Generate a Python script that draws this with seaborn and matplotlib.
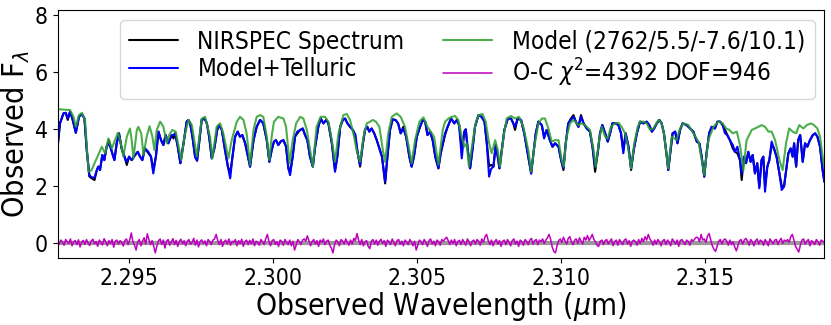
import numpy as np
import seaborn as sns
import matplotlib.pyplot as plt

# observed spectrum (black) and model+telluric (blue)
obs_wave = [
    2.29251, 2.29259, 2.29271, 2.29279, 2.29286, 2.29294, 2.29302, 2.29314, 2.29325, 2.29335,
    2.29344, 2.29352, 2.29361, 2.29369, 2.29379, 2.29387, 2.29392, 2.29398, 2.29406, 2.29413,
    2.29421, 2.29429, 2.29439, 2.29448, 2.29456, 2.29464, 2.29473, 2.29483, 2.29491, 2.29499,
    2.29508, 2.29520, 2.29529, 2.29537, 2.29545, 2.29554, 2.29566, 2.29575, 2.29583, 2.29592,
    2.29601, 2.29610, 2.29618, 2.29626, 2.29635, 2.29647, 2.29653, 2.29659, 2.29668, 2.29677,
    2.29688, 2.29699, 2.29705, 2.29711, 2.29719, 2.29728, 2.29735, 2.29742, 2.29751, 2.29761,
    2.29769, 2.29777, 2.29786, 2.29795, 2.29805, 2.29811, 2.29821, 2.29832, 2.29842, 2.29850,
    2.29858, 2.29867, 2.29876, 2.29884, 2.29892, 2.29902, 2.29919, 2.29931, 2.29942, 2.29954,
    2.29965, 2.29977, 2.29986, 2.29994, 2.30002, 2.30009, 2.30017, 2.30025, 2.30035, 2.30044,
    2.30052, 2.30058, 2.30067, 2.30075, 2.30083, 2.30093, 2.30102, 2.30110, 2.30118, 2.30127,
    2.30137, 2.30145, 2.30156, 2.30164, 2.30174, 2.30183, 2.30191, 2.30203, 2.30214, 2.30222,
    2.30232, 2.30241, 2.30249, 2.30257, 2.30266, 2.30276, 2.30285, 2.30292, 2.30301, 2.30310,
    2.30318, 2.30326, 2.30333, 2.30341, 2.30350, 2.30359, 2.30368, 2.30377, 2.30388, 2.30396,
    2.30405, 2.30414, 2.30424, 2.30433, 2.30442, 2.30451, 2.30461, 2.30472, 2.30480, 2.30488,
    2.30498, 2.30509, 2.30519, 2.30527, 2.30535, 2.30544, 2.30553, 2.30562, 2.30573, 2.30581,
    2.30596, 2.30605, 2.30617, 2.30628, 2.30637, 2.30645, 2.30654, 2.30663, 2.30668, 2.30675,
    2.30683, 2.30691, 2.30700, 2.30712, 2.30723, 2.30733, 2.30741, 2.30749, 2.30756, 2.30764,
    2.30772, 2.30779, 2.30785, 2.30793, 2.30802, 2.30814, 2.30825, 2.30833, 2.30839, 2.30848,
    2.30860, 2.30871, 2.30885, 2.30895, 2.30903, 2.30911, 2.30920, 2.30932, 2.30940, 2.30949,
    2.30960, 2.30969, 2.30978, 2.30990, 2.30999, 2.31007, 2.31015, 2.31024, 2.31033, 2.31042,
    2.31050, 2.31059, 2.31068, 2.31077, 2.31088, 2.31099, 2.31108, 2.31117, 2.31126, 2.31134,
    2.31142, 2.31152, 2.31161, 2.31169, 2.31177, 2.31189, 2.31198, 2.31207, 2.31215, 2.31223,
    2.31233, 2.31242, 2.31251, 2.31262, 2.31273, 2.31285, 2.31296, 2.31305, 2.31314, 2.31322,
    2.31331, 2.31340, 2.31348, 2.31356, 2.31366, 2.31371, 2.31379, 2.31386, 2.31395, 2.31403,
    2.31412, 2.31421, 2.31435, 2.31447, 2.31458, 2.31470, 2.31479, 2.31487, 2.31496, 2.31504,
    2.31513, 2.31522, 2.31533, 2.31542, 2.31551, 2.31560, 2.31568, 2.31576, 2.31585, 2.31595,
    2.31603, 2.31611, 2.31620, 2.31626, 2.31634, 2.31641, 2.31649, 2.31657, 2.31664, 2.31672,
    2.31680, 2.31687, 2.31695, 2.31701, 2.31707, 2.31715, 2.31722, 2.31730, 2.31738, 2.31747,
    2.31757, 2.31765, 2.31773, 2.31782, 2.31788, 2.31796, 2.31803, 2.31808, 2.31815, 2.31822,
    2.31829, 2.31838, 2.31846, 2.31854, 2.31863, 2.31873, 2.31881, 2.31889, 2.31898, 2.31907,
    2.31913]

obs_flux = [
    3.40, 4.20, 4.55, 4.57, 4.32, 4.61, 4.37, 3.87, 4.43, 4.53,
    4.37, 3.26, 2.33, 2.27, 2.21, 2.56, 2.68, 2.56, 3.09, 2.91,
    3.38, 3.61, 3.20, 2.91, 3.50, 3.85, 3.32, 3.03, 2.74, 3.03,
    2.91, 3.09, 3.20, 3.03, 2.91, 3.32, 3.15, 3.03, 2.56, 3.03,
    3.91, 3.61, 3.44, 3.79, 3.50, 3.79, 3.67, 3.85, 3.38, 2.80,
    3.50, 4.26, 4.32, 4.20, 3.73, 3.03, 2.89, 3.50, 4.32, 4.37,
    4.20, 3.73, 2.97, 3.32, 3.97, 4.14, 3.97, 3.26, 2.68, 2.45,
    3.03, 3.73, 3.91, 3.73, 3.79, 3.50, 2.68, 3.61, 4.08, 4.32,
    4.20, 3.61, 2.85, 3.26, 3.56, 3.61, 3.44, 3.56, 3.61, 3.38,
    2.62, 2.50, 3.03, 3.73, 3.85, 3.97, 4.02, 3.79, 3.61, 3.03,
    2.68, 3.38, 4.08, 4.37, 4.20, 4.32, 4.20, 3.50, 2.56, 3.03,
    4.08, 4.32, 4.37, 4.20, 4.08, 3.97, 3.67, 3.20, 2.68, 3.44,
    3.97, 4.08, 3.91, 4.02, 3.85, 3.61, 3.32, 3.03, 2.09, 3.03,
    3.97, 4.34, 4.32, 4.20, 3.85, 4.08, 3.73, 3.03, 2.68, 3.03,
    3.73, 4.08, 4.32, 4.26, 3.79, 3.91, 3.61, 3.03, 2.62, 3.15,
    3.79, 4.08, 4.37, 4.20, 4.32, 4.14, 3.30, 3.91, 3.99, 3.26,
    2.62, 3.26, 4.08, 4.49, 4.43, 4.26, 3.50, 2.70, 2.74, 2.68,
    3.44, 3.03, 2.62, 3.26, 3.97, 4.37, 4.37, 4.20, 3.97, 4.37,
    4.32, 3.85, 3.03, 2.44, 3.15, 3.85, 4.26, 4.14, 3.73, 3.97,
    3.61, 3.38, 3.50, 3.38, 2.91, 2.56, 3.50, 4.20, 4.37, 4.49,
    4.26, 4.08, 4.49, 4.20, 4.02, 3.91, 3.38, 2.50, 3.15, 3.85,
    4.14, 3.85, 3.56, 3.85, 4.20, 4.20, 4.14, 3.85, 3.26, 3.85,
    3.38, 2.56, 3.26, 3.85, 4.26, 4.20, 4.26, 4.14, 3.91, 4.02,
    4.20, 4.32, 4.20, 3.85, 3.03, 2.56, 3.26, 3.85, 3.91, 3.50,
    3.97, 4.20, 4.14, 4.02, 3.91, 3.56, 3.50, 3.03, 2.33, 3.15,
    3.85, 4.08, 4.02, 4.26, 4.26, 4.14, 3.97, 3.79, 3.61, 3.32,
    3.20, 3.15, 2.91, 2.21, 3.03, 2.80, 3.20, 2.85, 3.09, 2.44,
    2.80, 1.98, 2.91, 3.03, 2.00, 2.68, 2.91, 3.44, 3.32, 3.03,
    2.44, 2.00, 1.98, 2.68, 3.15, 3.32, 3.03, 3.50, 2.68, 3.61,
    3.79, 2.85, 3.50, 3.38, 3.61, 3.79, 3.85, 3.73, 3.38, 2.56,
    2.15]

tel_flux = [
    3.40, 4.20, 4.55, 4.57, 4.38, 4.61, 4.37, 3.87, 4.43, 4.53,
    4.37, 3.26, 2.39, 2.30, 2.30, 2.56, 2.68, 2.56, 3.09, 2.91,
    3.38, 3.50, 3.20, 2.91, 3.50, 3.85, 3.32, 3.03, 2.85, 3.03,
    2.91, 3.09, 3.20, 3.03, 2.91, 3.32, 3.20, 3.03, 2.44, 3.03,
    3.91, 3.61, 3.44, 3.79, 3.50, 3.79, 3.79, 3.85, 3.38, 2.80,
    3.50, 4.26, 4.32, 4.20, 3.73, 3.03, 2.89, 3.50, 4.32, 4.37,
    4.20, 3.73, 2.97, 3.32, 3.97, 4.14, 3.97, 3.26, 2.68, 2.27,
    3.03, 3.73, 3.91, 3.73, 3.79, 3.50, 2.68, 3.61, 4.08, 4.32,
    4.20, 3.61, 2.85, 3.26, 3.56, 3.61, 3.44, 3.56, 3.61, 3.38,
    2.62, 2.38, 3.03, 3.73, 3.91, 3.97, 4.02, 3.79, 3.61, 3.03,
    2.68, 3.38, 4.08, 4.37, 4.20, 4.32, 4.20, 3.50, 2.50, 3.03,
    4.08, 4.32, 4.37, 4.20, 4.08, 3.97, 3.80, 3.20, 2.74, 3.44,
    3.97, 4.08, 3.91, 4.02, 3.85, 3.61, 3.32, 3.03, 2.15, 3.03,
    3.97, 4.34, 4.32, 4.20, 3.85, 4.02, 3.73, 3.03, 2.68, 3.03,
    3.73, 4.08, 4.32, 4.26, 3.79, 3.91, 3.61, 3.03, 2.62, 3.15,
    3.85, 4.08, 4.37, 4.20, 4.32, 4.14, 2.97, 3.91, 3.99, 3.26,
    2.62, 3.26, 4.08, 4.49, 4.43, 4.26, 3.50, 2.33, 2.60, 2.68,
    3.44, 3.03, 2.62, 3.26, 3.97, 4.37, 4.37, 4.20, 4.08, 4.37,
    4.32, 3.85, 3.03, 2.44, 3.15, 3.85, 4.26, 4.14, 3.67, 3.97,
    3.61, 3.38, 3.50, 3.38, 2.91, 2.62, 3.50, 4.20, 4.32, 4.43,
    4.26, 4.08, 4.43, 4.20, 4.02, 3.91, 3.38, 2.68, 3.15, 3.85,
    4.14, 3.85, 3.56, 3.85, 4.20, 4.20, 4.14, 3.85, 3.15, 3.85,
    3.38, 2.62, 3.26, 3.85, 4.26, 4.20, 4.26, 4.14, 3.91, 4.02,
    4.20, 4.32, 4.20, 3.85, 3.03, 2.56, 3.26, 3.85, 3.91, 3.50,
    3.97, 4.20, 4.14, 4.02, 3.91, 3.56, 3.50, 3.03, 2.33, 3.15,
    3.85, 4.08, 4.02, 4.26, 4.26, 4.14, 3.85, 3.79, 3.61, 3.44,
    3.20, 3.38, 2.91, 2.44, 3.03, 2.80, 3.20, 2.85, 3.09, 2.44,
    2.80, 1.92, 2.91, 3.03, 1.80, 2.68, 2.91, 3.56, 3.32, 3.03,
    2.44, 1.86, 1.98, 2.68, 3.15, 3.32, 3.03, 3.50, 2.68, 3.61,
    3.79, 2.85, 3.50, 3.38, 3.61, 3.79, 3.85, 3.73, 3.38, 2.56,
    2.15]

# model without telluric (green)
mod_wave = [
    2.29251, 2.29289, 2.29294, 2.29306, 2.29314, 2.29325, 2.29335, 2.29346, 2.29358, 2.29369,
    2.29381, 2.29392, 2.29404, 2.29416, 2.29427, 2.29439, 2.29450, 2.29460, 2.29468, 2.29479,
    2.29491, 2.29502, 2.29508, 2.29514, 2.29526, 2.29531, 2.29541, 2.29549, 2.29560, 2.29570,
    2.29580, 2.29587, 2.29595, 2.29607, 2.29618, 2.29630, 2.29638, 2.29649, 2.29661, 2.29670,
    2.29680, 2.29691, 2.29705, 2.29717, 2.29734, 2.29751, 2.29763, 2.29780, 2.29788, 2.29803,
    2.29815, 2.29826, 2.29844, 2.29855, 2.29873, 2.29884, 2.29896, 2.29907, 2.29919, 2.29931,
    2.29942, 2.29954, 2.29965, 2.29977, 2.29986, 2.29994, 2.30002, 2.30017, 2.30035, 2.30044,
    2.30056, 2.30067, 2.30079, 2.30093, 2.30104, 2.30116, 2.30137, 2.30150, 2.30164, 2.30179,
    2.30191, 2.30203, 2.30214, 2.30226, 2.30243, 2.30255, 2.30266, 2.30278, 2.30289, 2.30301,
    2.30313, 2.30324, 2.30336, 2.30345, 2.30356, 2.30368, 2.30380, 2.30388, 2.30399, 2.30411,
    2.30428, 2.30442, 2.30457, 2.30472, 2.30480, 2.30492, 2.30507, 2.30521, 2.30535, 2.30546,
    2.30558, 2.30573, 2.30588, 2.30596, 2.30608, 2.30619, 2.30631, 2.30642, 2.30654, 2.30663,
    2.30671, 2.30679, 2.30691, 2.30702, 2.30712, 2.30726, 2.30737, 2.30749, 2.30758, 2.30770,
    2.30779, 2.30787, 2.30799, 2.30810, 2.30825, 2.30839, 2.30853, 2.30868, 2.30885, 2.30895,
    2.30906, 2.30920, 2.30932, 2.30943, 2.30955, 2.30966, 2.30978, 2.30990, 2.31001, 2.31008,
    2.31018, 2.31030, 2.31042, 2.31059, 2.31071, 2.31082, 2.31099, 2.31111, 2.31119, 2.31131,
    2.31140, 2.31152, 2.31161, 2.31172, 2.31186, 2.31198, 2.31209, 2.31221, 2.31230, 2.31242,
    2.31253, 2.31265, 2.31273, 2.31285, 2.31296, 2.31308, 2.31319, 2.31337, 2.31348, 2.31356,
    2.31371, 2.31383, 2.31400, 2.31412, 2.31423, 2.31441, 2.31458, 2.31476, 2.31496, 2.31510,
    2.31528, 2.31545, 2.31560, 2.31572, 2.31583, 2.31595, 2.31609, 2.31620, 2.31632, 2.31643,
    2.31661, 2.31672, 2.31684, 2.31695, 2.31707, 2.31719, 2.31730, 2.31742, 2.31757, 2.31768,
    2.31780, 2.31791, 2.31803, 2.31815, 2.31826, 2.31840, 2.31852, 2.31866, 2.31877, 2.31889,
    2.31898, 2.31907, 2.31913]

mod_flux = [
    4.70, 4.67, 4.67, 4.43, 4.08, 4.49, 4.57, 4.32, 2.50, 2.56,
    2.85, 3.09, 3.38, 3.15, 3.67, 3.32, 3.61, 3.87, 3.61, 3.03,
    3.73, 4.02, 3.61, 2.97, 3.97, 4.08, 3.85, 3.09, 3.73, 4.10,
    3.73, 3.26, 3.97, 4.26, 4.08, 3.50, 3.79, 3.97, 3.91, 3.44,
    2.91, 3.73, 4.32, 4.14, 3.03, 4.37, 4.43, 3.73, 2.97, 4.08,
    4.20, 3.85, 2.97, 3.61, 4.26, 4.43, 4.32, 3.85, 2.74, 3.97,
    4.43, 4.49, 4.43, 3.73, 2.91, 3.73, 4.26, 4.43, 4.37, 4.08,
    2.80, 3.61, 4.20, 4.43, 4.37, 3.97, 2.68, 4.08, 4.43, 4.43,
    4.26, 3.61, 2.85, 3.85, 4.49, 4.53, 4.32, 3.85, 3.26, 2.85,
    3.73, 4.20, 4.26, 4.32, 4.26, 4.08, 3.26, 2.85, 3.85, 4.43,
    4.55, 4.43, 4.08, 3.26, 2.80, 3.61, 4.26, 4.41, 4.08, 3.91,
    3.73, 2.74, 3.97, 4.26, 4.37, 4.43, 4.46, 4.32, 3.73, 3.38,
    3.50, 2.68, 3.50, 4.20, 4.49, 4.53, 4.26, 3.50, 3.15, 3.61,
    3.26, 2.68, 3.73, 4.37, 4.46, 4.37, 4.43, 4.08, 3.26, 2.50,
    3.38, 4.20, 4.37, 4.37, 4.02, 3.56, 3.61, 3.61, 2.91, 2.68,
    3.73, 4.20, 4.32, 4.14, 4.20, 4.14, 3.97, 3.32, 2.68, 3.61,
    4.08, 3.73, 3.67, 4.08, 4.20, 4.22, 4.08, 3.85, 3.44, 2.62,
    3.50, 4.08, 4.26, 4.26, 4.20, 3.97, 4.02, 4.32, 4.20, 3.85,
    2.62, 3.73, 3.61, 4.02, 4.20, 4.14, 3.85, 3.56, 2.39, 3.61,
    4.08, 4.26, 4.20, 4.02, 3.97, 3.85, 3.91, 3.44, 2.56, 3.61,
    3.97, 4.02, 4.08, 4.14, 4.08, 3.91, 3.91, 3.61, 2.91, 2.56,
    3.50, 4.02, 3.91, 3.85, 4.14, 4.02, 4.14, 4.20, 4.14, 4.02,
    3.73, 3.03, 2.68]

# O-C residuals, 480 samples across the range
res_flux = [
    0.06, -0.04, 0.10, 0.02, -0.08, 0.12, 0.04, -0.02, 0.14, -0.10, 0.05, 0.08, -0.06, 0.11, -0.14, 0.03, 0.09, -0.05, 0.12, 0.00,
    -0.09, 0.07, 0.13, -0.03, 0.05, -0.12, 0.10, 0.02, -0.07, 0.15, 0.04, -0.10, 0.08, -0.02, 0.12, -0.15, 0.06, 0.10, -0.04, 0.08,
    0.02, -0.11, 0.09, 0.14, -0.06, 0.10, 0.35, 0.05, -0.08, -0.25, 0.04, 0.12, -0.10, 0.06, 0.18, -0.04, 0.32, 0.12, -0.06, 0.08,
    -0.12, -0.35, -0.10, 0.08, 0.14, -0.05, 0.10, -0.18, 0.06, 0.12, -0.08, 0.04, 0.15, -0.06, 0.09, -0.12, 0.05, 0.13, -0.03, 0.08,
    -0.10, 0.06, 0.12, -0.05, 0.02, 0.16, -0.08, 0.10, -0.14, 0.05, 0.11, -0.03, 0.07, -0.10, 0.12, 0.04, -0.06, 0.10, 0.14, 0.30,
    0.08, -0.06, 0.12, -0.12, 0.04, 0.10, -0.04, 0.14, -0.08, 0.06, 0.02, 0.12, -0.10, 0.08, -0.02, 0.13, -0.12, 0.05, 0.10, -0.06,
    0.09, -0.03, 0.14, -0.10, 0.06, 0.02, -0.08, 0.12, 0.04, -0.06, 0.15, 0.30, 0.06, -0.10, 0.08, 0.12, -0.05, 0.04, -0.12, 0.10,
    0.05, -0.08, 0.12, 0.02, -0.06, 0.10, -0.10, 0.06, -0.25, -0.08, 0.12, 0.04, -0.06, 0.10, 0.14, 0.06, 0.25, 0.08, -0.10, 0.05,
    0.12, -0.04, 0.08, -0.12, 0.10, 0.02, 0.14, -0.06, 0.06, 0.10, -0.08, -0.18, -0.35, -0.06, 0.10, 0.04, -0.10, 0.12, 0.06, -0.04,
    0.14, 0.02, -0.08, 0.10, -0.04, 0.16, 0.08, 0.33, 0.10, -0.06, 0.12, -0.10, 0.04, 0.08, -0.12, -0.20, 0.06, 0.12, -0.04, 0.10,
    -0.08, 0.06, 0.13, -0.02, 0.08, -0.12, 0.10, 0.04, -0.06, 0.14, 0.02, -0.10, 0.08, 0.12, -0.05, 0.06, -0.10, 0.10, 0.03, -0.06,
    0.12, 0.04, -0.10, 0.06, -0.25, -0.08, 0.10, 0.05, -0.06, 0.12, 0.02, -0.12, 0.08, 0.14, -0.04, 0.06, -0.10, 0.10, 0.04, -0.08,
    0.12, 0.06, 0.14, 0.20, 0.08, -0.06, 0.10, -0.02, 0.12, -0.10, 0.05, 0.09, -0.06, 0.12, 0.02, -0.08, 0.14, 0.04, -0.10, 0.06,
    0.10, -0.04, 0.12, 0.06, -0.08, 0.14, 0.02, 0.22, 0.30, 0.08, -0.06, 0.10, -0.10, 0.05, 0.12, -0.04, 0.08, -0.12, 0.06, 0.10,
    -0.06, 0.12, 0.02, -0.10, 0.08, 0.14, -0.04, 0.06, -0.12, 0.10, 0.04, -0.08, 0.12, 0.05, -0.06, 0.10, 0.16, -0.04, 0.08, 0.12,
    -0.06, 0.10, 0.04, 0.14, -0.02, 0.10, 0.18, 0.30, 0.12, -0.15, -0.30, -0.35, -0.10, 0.08, 0.14, 0.02, 0.20, 0.06, -0.04, 0.16,
    0.22, 0.04, -0.06, 0.10, 0.14, -0.02, 0.18, 0.06, -0.04, 0.20, 0.10, 0.26, 0.08, 0.18, 0.30, 0.12, 0.04, -0.08, -0.12, 0.06,
    0.10, -0.06, 0.08, 0.12, -0.04, 0.06, 0.14, -0.10, 0.05, 0.10, -0.08, 0.12, 0.02, -0.06, 0.10, 0.14, -0.04, 0.08, -0.12, 0.06,
    0.10, 0.04, -0.08, 0.12, -0.02, 0.16, 0.04, 0.22, 0.10, 0.30, 0.14, 0.06, -0.08, 0.10, -0.04, 0.12, 0.04, -0.10, 0.08, 0.12,
    -0.06, 0.10, 0.02, -0.10, 0.14, 0.06, -0.04, 0.10, -0.12, 0.08, 0.12, 0.02, -0.06, 0.10, 0.05, -0.08, 0.12, 0.06, 0.14, 0.20,
    0.18, 0.04, 0.30, 0.10, 0.14, 0.02, 0.24, 0.33, 0.12, -0.10, -0.22, -0.30, -0.12, 0.06, 0.12, -0.04, 0.10, 0.14, 0.06, -0.08,
    0.10, -0.06, 0.04, -0.14, -0.28, -0.10, 0.08, 0.12, -0.04, 0.10, 0.16, 0.06, -0.08, 0.12, 0.04, -0.10, 0.08, 0.14, -0.04, 0.10,
    0.06, -0.08, 0.12, 0.02, -0.10, 0.14, 0.06, -0.04, 0.10, 0.12, -0.06, 0.08, 0.16, -0.02, 0.10, 0.06, 0.12, 0.02, 0.22, 0.30,
    0.10, -0.12, -0.22, -0.32, -0.08, 0.10, 0.14, -0.04, 0.06, 0.12, -0.10, 0.08, 0.02, -0.06, 0.12, 0.04, -0.08, 0.10, 0.06, 0.02]
res_wave = np.linspace(2.29251, 2.31913, len(res_flux))

model_label = 'Model (2762/5.5/-7.6/10.1)'
resid_label = r'O-C $\chi^2$=4392 DOF=946'


def spectrum_png(outname):
    sns.set_style("ticks")
    plt.rcParams['font.family'] = ['DejaVu Sans']
    plt.rcParams['font.stretch'] = 'condensed'
    plt.rcParams.update({'text.color': 'black', 'axes.labelcolor': 'black',
                         'xtick.color': 'black', 'ytick.color': 'black',
                         'axes.edgecolor': 'black'})

    fig = plt.figure(figsize=(8.31, 3.25), dpi=100)
    ax = fig.add_axes([0.0694, 0.207, 0.9226, 0.762])

    ax.axhline(0, color='0.6', lw=3, zorder=1)
    sns.lineplot(x=obs_wave, y=obs_flux, color='k', lw=1.5, estimator=None,
                 sort=False, ax=ax)
    sns.lineplot(x=obs_wave, y=tel_flux, color='b', lw=1.5, estimator=None,
                 sort=False, ax=ax)
    sns.lineplot(x=mod_wave, y=mod_flux, color='tab:green', lw=1.5, alpha=0.85,
                 estimator=None, sort=False, ax=ax)
    sns.lineplot(x=res_wave, y=res_flux, color='m', lw=1.1, estimator=None,
                 sort=False, ax=ax)

    lines = ax.get_lines()
    # lines[0] is the zero line
    handles = [lines[1], lines[2], lines[3], lines[4]]
    labels = ['NIRSPEC Spectrum', 'Model+Telluric', model_label, resid_label]
    ax.legend(handles, labels, ncol=2, loc='upper right', fontsize=17.5,
              labelspacing=0.15, columnspacing=1.6, borderaxespad=0.4)

    ax.set_xlim(2.29251, 2.31913)
    ax.set_ylim(-0.52, 8.18)
    ax.set_xticks([2.295, 2.300, 2.305, 2.310, 2.315])
    ax.set_xticklabels(['2.295', '2.300', '2.305', '2.310', '2.315'])
    ax.set_yticks([0, 2, 4, 6, 8])
    ax.tick_params(labelsize=16.5)
    ax.set_xlabel(r'Observed Wavelength ($\mu$m)', fontsize=21.5, labelpad=0)
    ax.set_ylabel(r'Observed F$_\lambda$', fontsize=22, labelpad=2)

    fig.savefig(outname, dpi=100)


if __name__ == '__main__':
    spectrum_png('out.png')
